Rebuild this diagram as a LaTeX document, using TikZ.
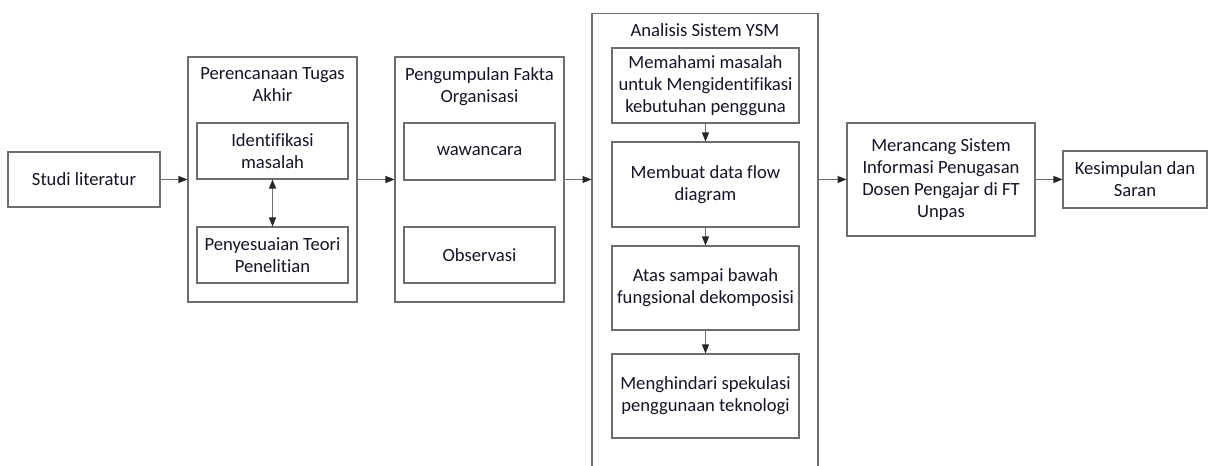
\documentclass[tikz,border=0pt]{standalone}
\usepackage{fontspec}
\setmainfont{Carlito}[Ligatures=NoCommon]
\usepackage{tikz}
\usetikzlibrary{arrows.meta}
\definecolor{line-color}{RGB}{110,110,110}
\definecolor{text-color}{RGB}{20,20,40}

\begin{document}
\begin{tikzpicture}[x=0.02cm,y=-0.02cm,
    box/.style={draw=line-color,line width=0.6pt,align=center,text=text-color,
        font=\fontsize{10.6}{12.6}\selectfont,inner sep=1pt},
    group/.style={draw=line-color,line width=0.6pt,minimum width=3.38cm},
    title/.style={anchor=north,align=center,text=text-color,inner sep=2pt,yshift=-0.14cm,
        font=\fontsize{10.6}{12.6}\selectfont},
    arr/.style={draw=line-color,line width=0.6pt,-{Triangle[length=0.18cm,width=0.14cm,color=black!85]}}]
    \useasboundingbox (0,0) rectangle (1208,466);

    \node[box,minimum width=3.04cm,minimum height=1.1cm] (studi) at (84,179.5) {Studi literatur};

    % perencanaan
    \node[group,minimum height=4.9cm] (rencana) at (272.5,179.5) {};
    \node[title] (rencanaT) at (rencana.north) {Perencanaan Tugas\\Akhir};
    \node[box,minimum width=3.02cm,minimum height=1.12cm] (identifikasi) at (272.5,151) {Identifikasi\\masalah};
    \node[box,minimum width=3.02cm,minimum height=1.12cm] (penyesuaian) at (272.5,255) {Penyesuaian Teori\\Penelitian};

    % pengumpulan fakta
    \node[group,minimum height=4.9cm] (fakta) at (479.5,179.5) {};
    \node[title] (faktaT) at (fakta.north) {Pengumpulan Fakta\\Organisasi};
    \node[box,minimum width=3.02cm,minimum height=1.14cm] (wawancara) at (479.5,151.5) {wawancara};
    \node[box,minimum width=3.02cm,minimum height=1.12cm] (observasi) at (479.5,255) {Observasi};

    % analisis YSM
    \node[group,minimum width=4.52cm,minimum height=9.34cm] (ysm) at (705,246.5) {};
    \node[title] (ysmT) at (ysm.north) {Analisis Sistem YSM};
    \node[box,minimum width=3.74cm,minimum height=1.5cm] (memahami) at (705.5,85.5) {Memahami masalah\\untuk Mengidentifikasi\\kebutuhan pengguna};
    \node[box,minimum width=3.74cm,minimum height=1.7cm] (dfd) at (705.5,184.5) {Membuat data flow\\diagram};
    \node[box,minimum width=3.74cm,minimum height=1.68cm] (dekomposisi) at (705.5,288) {Atas sampai bawah\\fungsional dekomposisi};
    \node[box,minimum width=3.74cm,minimum height=1.68cm] (spekulasi) at (705.5,396) {Menghindari spekulasi\\penggunaan teknologi};

    \node[box,minimum width=3.76cm,minimum height=2.26cm] (merancang) at (941,179.5) {Merancang Sistem\\Informasi Penugasan\\Dosen Pengajar di FT\\Unpas};
    \node[box,minimum width=2.88cm,minimum height=1.14cm] (saran) at (1135,179.5) {Kesimpulan dan\\Saran};

    % panah
    \draw[arr] (studi) -- (rencana);
    \draw[arr] (rencana) -- (fakta);
    \draw[arr] (fakta.east) -- (fakta.east -| ysm.west);
    \draw[arr] (merancang.west -| ysm.east) -- (merancang.west);
    \draw[arr] (merancang) -- (saran);
    \draw[arr,{Triangle[length=0.18cm,width=0.14cm,color=black!85]}-{Triangle[length=0.18cm,width=0.14cm,color=black!85]}] (identifikasi) -- (penyesuaian);
    \draw[arr] (memahami) -- (dfd);
    \draw[arr] (dfd) -- (dekomposisi);
    \draw[arr] (dekomposisi) -- (spekulasi);
\end{tikzpicture}
\end{document}
